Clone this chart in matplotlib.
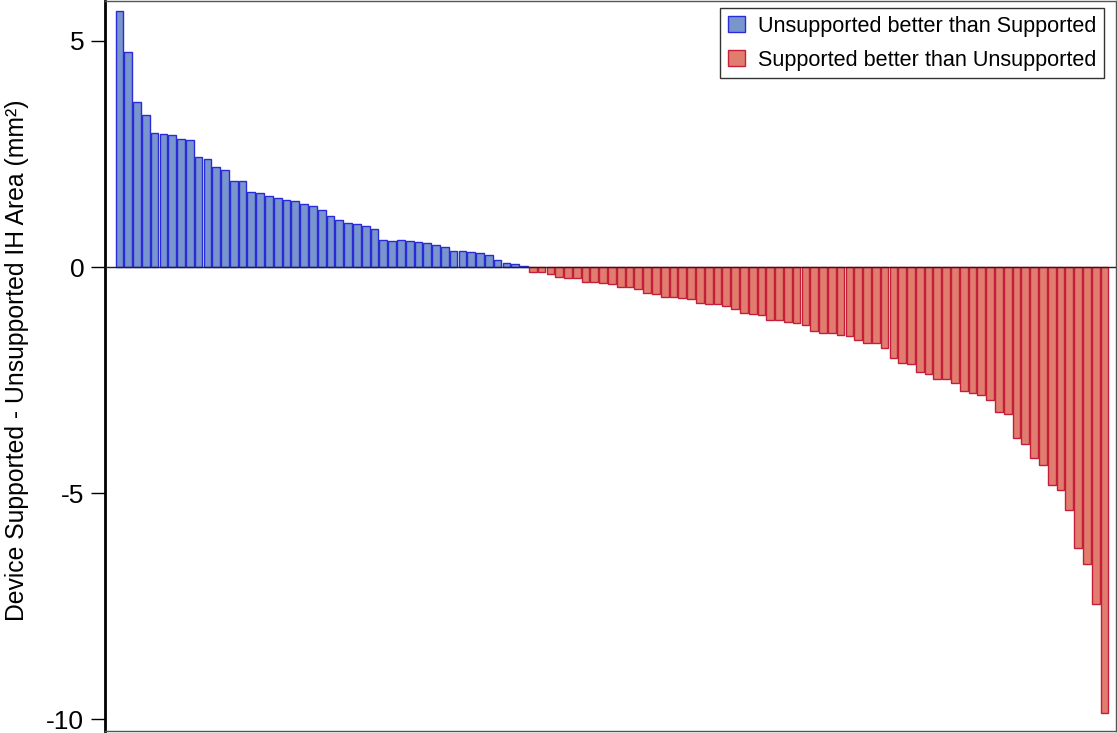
import matplotlib
import matplotlib.pyplot as plt
import numpy as np

matplotlib.use('agg')

# difference per subject, sorted (mm^2)
unsupported_better = [
    5.66, 4.75, 3.65, 3.35, 2.96, 2.94, 2.91, 2.83, 2.81, 2.43,
    2.39, 2.22, 2.14, 1.91, 1.91, 1.66, 1.64, 1.56, 1.52, 1.49,
    1.47, 1.40, 1.36, 1.26, 1.12, 1.03, 0.98, 0.95, 0.91, 0.85,
    0.60, 0.58, 0.59, 0.57, 0.56, 0.54, 0.48, 0.45, 0.35, 0.35,
    0.34, 0.31, 0.26, 0.16, 0.09, 0.07, 0.03,
]
supported_better = [
    -0.10, -0.12, -0.15, -0.21, -0.24, -0.24, -0.32, -0.34, -0.35, -0.37,
    -0.43, -0.45, -0.48, -0.57, -0.60, -0.66, -0.67, -0.68, -0.70, -0.80,
    -0.81, -0.81, -0.87, -0.93, -1.02, -1.03, -1.06, -1.17, -1.17, -1.22,
    -1.24, -1.29, -1.42, -1.45, -1.45, -1.51, -1.52, -1.61, -1.67, -1.67,
    -1.80, -2.02, -2.13, -2.14, -2.33, -2.36, -2.47, -2.47, -2.57, -2.73,
    -2.78, -2.82, -2.94, -3.21, -3.24, -3.77, -3.92, -4.22, -4.38, -4.81,
    -4.93, -5.37, -6.22, -6.56, -7.45, -9.86,
]
legend_labels = ['Unsupported better than Supported',
                 'Supported better than Unsupported']

plt.rcParams['font.family'] = ['Liberation Sans', 'DejaVu Sans']

fig = plt.figure(figsize=(11.17, 7.33), dpi=100)
ax = fig.add_axes([0.094, 0.003, 0.905, 0.995])

n_pos = len(unsupported_better)
x_pos = np.arange(n_pos)
x_neg = np.arange(n_pos, n_pos + len(supported_better))

ax.bar(x_pos, unsupported_better, width=0.88, color='#7896cd',
       edgecolor='#2a2ad6', linewidth=1.0, label=legend_labels[0])
ax.bar(x_neg, supported_better, width=0.88, color='#e07d6e',
       edgecolor='#c41e3a', linewidth=1.0, label=legend_labels[1])

ax.axhline(0, color='#222222', linewidth=1.0, zorder=3)

ax.set_xlim(-1.64, 113.3)
ax.set_ylim(-10.25, 5.87)
ax.set_xticks([])
ax.set_yticks([5, 0, -5, -10])
ax.set_yticklabels(['5', '0', '-5', '-10'])
ax.tick_params(axis='y', labelsize=19, length=10, width=1.0, pad=5)
ax.set_ylabel('Device Supported - Unsupported IH Area (mm²)', fontsize=17.8)
ax.yaxis.set_label_coords(-0.075, 0.508)

ax.spines['left'].set_linewidth(2.0)
ax.spines['left'].set_color('black')
for side in ['top', 'bottom', 'right']:
    ax.spines[side].set_color('#555555')
    ax.spines[side].set_linewidth(1.0)

leg = ax.legend(loc='upper right', fontsize=15.6, frameon=True, fancybox=False,
                edgecolor='black', handlelength=0.78, handleheight=0.78,
                handletextpad=0.6, borderpad=0.35, labelspacing=0.6,
                borderaxespad=0, bbox_to_anchor=(0.988, 0.991))
leg.get_frame().set_linewidth(1.0)

fig.savefig('out.png', dpi=100)
